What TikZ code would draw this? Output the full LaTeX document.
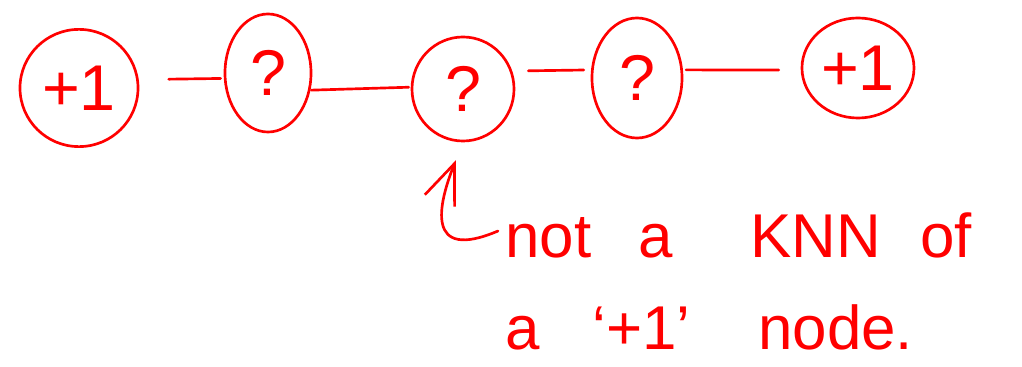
\documentclass[tikz,border=0pt]{standalone}
\usepackage{fontspec}
\setmainfont{Liberation Sans}
\usetikzlibrary{shapes.geometric,arrows.meta}
\definecolor{ink}{RGB}{255,0,0}
\begin{document}
\begin{tikzpicture}[x=0.025cm,y=-0.025cm,
  knode/.style={ellipse,draw=ink,line width=1.9pt,inner sep=0pt,text=ink,font=\fontsize{46}{52}\selectfont},
  word/.style={anchor=base west,inner sep=0pt,text=ink,font=\fontsize{44}{50}\selectfont},
  link/.style={draw=ink,line width=1.9pt,line cap=round,line join=round}]
\useasboundingbox[fill=white,draw=none] (0,0) rectangle (1022,367);
\node[knode,minimum width=2.95cm,minimum height=2.93cm] (n1) at (79,88) {+1};
\node[knode,minimum width=2.15cm,minimum height=2.95cm] (n2) at (268,73) {?};
\node[knode,minimum width=2.55cm,minimum height=2.6cm] (n3) at (463,89) {?};
\node[knode,minimum width=2.25cm,minimum height=3.0cm] (n4) at (637,78) {?};
\node[knode,minimum width=2.8cm,minimum height=2.5cm] (n5) at (858,68) {+1};
\draw[link,shorten <=0.75cm,shorten >=0.08cm] (n1.8) -- (n2.187);
\draw[link,shorten <=0.02cm,shorten >=0.05cm] (n2.338) -- (n3.178);
\draw[link,shorten <=0.4cm,shorten >=0.18cm] (n3.20) -- (n4.170);
\draw[link,shorten <=0.08cm,shorten >=0.55cm] (n4.10) -- (n5.182);
\coordinate (tail) at (498,231);
\draw[link,-{Straight Barb[length=1.0cm,width=0.8cm,line width=1.9pt]},shorten >=0.48cm] (tail) .. controls (425,262) and (438,205) .. (n3.south);
\node[word] (w1) at (505,258) {not};
\node[word] (w2) at (638,258) {a};
\node[word] (w3) at (750,258) {KNN};
\node[word] (w4) at (920,258) {of};
\node[word] (w5) at (505,350) {a};
\node[word] (w6) at (592,350) {‘+1’};
\node[word] (w7) at (758,350) {node.};
\end{tikzpicture}
\end{document}
